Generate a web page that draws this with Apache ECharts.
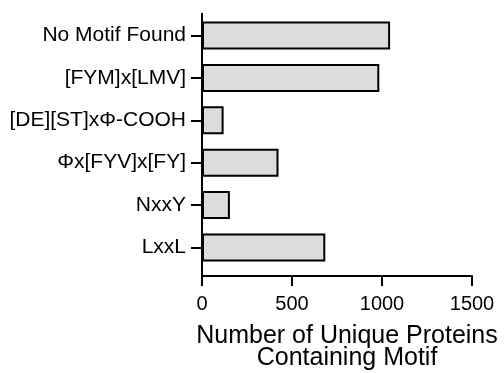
<!DOCTYPE html>
<html>
<head>
<meta charset="utf-8">
<script src="https://cdn.jsdelivr.net/npm/echarts@6/dist/echarts.min.js"></script>
<style>
html,body{margin:0;padding:0;background:#fff;overflow:hidden;}
#c{width:504px;height:373px;}
</style>
</head>
<body>
<div id="c"></div>
<script>
const categories = ['No Motif Found', '[FYM]x[LMV]', '[DE][ST]xΦ-COOH', 'Φx[FYV]x[FY]', 'NxxY', 'LxxL'];
const proteinCounts = [1045, 985, 120, 425, 155, 685];
const xTickValues = [0, 500, 1000, 1500];
const xAxisTitle = 'Number of Unique Proteins\nContaining Motif';

const FONT = '"Liberation Sans", Arial, Helvetica, sans-serif';
const chart = echarts.init(document.getElementById('c'), null, {renderer: 'canvas', width: 504, height: 373});

const xMin = xTickValues[0];
const xMax = xTickValues[xTickValues.length - 1];
const xStep = xTickValues[1] - xTickValues[0];

chart.setOption({
  animation: false,
  backgroundColor: '#ffffff',
  grid: [
    {left: 202, right: 32, top: 14.3, height: 254.4, containLabel: false},
    {left: 202, right: 32, top: 275, height: 1, containLabel: false}
  ],
  xAxis: [
    {
      gridIndex: 0, type: 'value', min: xMin, max: xMax, interval: xStep,
      axisLine: {show: false}, axisTick: {show: false}, axisLabel: {show: false}, splitLine: {show: false}
    },
    {
      gridIndex: 1, type: 'value', min: xMin, max: xMax, interval: xStep,
      splitLine: {show: false},
      axisLine: {show: true, onZero: false, lineStyle: {color: '#000', width: 2}},
      axisTick: {show: true, length: 10, lineStyle: {color: '#000', width: 2}},
      axisLabel: {color: '#000', fontSize: 20, fontFamily: FONT, margin: 18, formatter: function (v) { return String(v); }},
      name: xAxisTitle,
      nameLocation: 'middle',
      nameGap: 49,
      nameTextStyle: {color: '#000', fontSize: 25, fontFamily: FONT, lineHeight: 22, padding: [0, 0, 0, 20]}
    }
  ],
  yAxis: [
    {
      gridIndex: 0, type: 'category', data: categories, inverse: true,
      axisLine: {show: false},
      axisTick: {show: true, length: 11, alignWithLabel: true, lineStyle: {color: '#000', width: 2}},
      axisLabel: {color: '#000', fontSize: 21, fontFamily: FONT, margin: 16}
    },
    {
      gridIndex: 1, type: 'value', show: false
    }
  ],
  series: [{
    type: 'bar',
    xAxisIndex: 0,
    yAxisIndex: 0,
    data: proteinCounts,
    barWidth: 28,
    itemStyle: {color: '#dcdcdc', borderColor: '#000', borderWidth: 2}
  }]
});

const x0 = chart.convertToPixel({xAxisIndex: 1}, xMin);
chart.setOption({
  graphic: [{
    type: 'line',
    shape: {x1: x0, y1: 13, x2: x0, y2: 277},
    style: {stroke: '#000', lineWidth: 2},
    z: 100
  }]
});
</script>
</body>
</html>
